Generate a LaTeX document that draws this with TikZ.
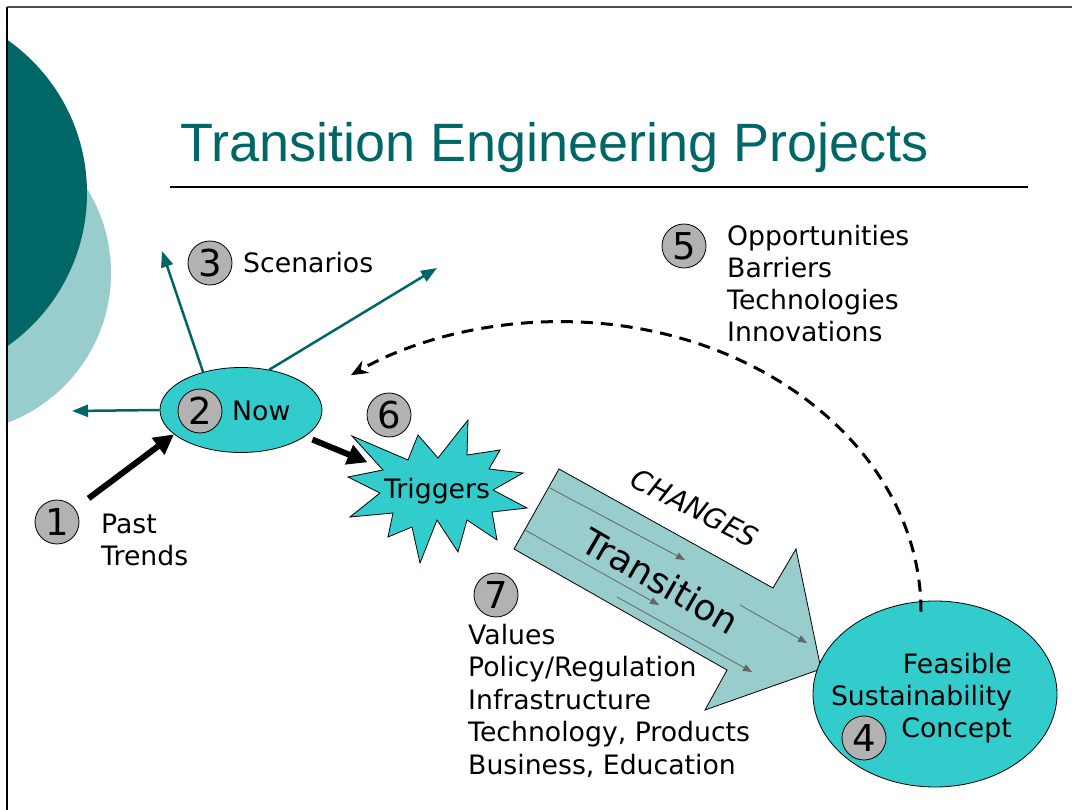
\documentclass[tikz,border=0pt]{standalone}
\usepackage{fontspec}
\setmainfont{DejaVu Sans}
\newfontfamily\titlefont{Liberation Sans}
\usetikzlibrary{shapes.geometric,arrows.meta}
\definecolor{darkteal}{RGB}{0,102,102}
\definecolor{paleteal}{RGB}{153,204,204}
\definecolor{brightteal}{RGB}{51,204,204}
\definecolor{badgegray}{RGB}{178,178,178}

\begin{document}
\begin{tikzpicture}[x=1pt,y=1pt]
	\tikzstyle{every node}=[inner sep=0pt]
	\tikzstyle{badge}=[circle,draw,fill=badgegray,minimum size=44pt,line width=0.8pt,font=\fontsize{37}{37}\selectfont]
	\tikzstyle{lbl}=[align=left,font=\fontsize{26.7}{32}\selectfont]
	\tikzstyle{bigarrow}=[line width=6pt,-{Triangle[length=20pt,width=20pt]}]
	\tikzstyle{ray}=[darkteal,line width=2.5pt,-{Triangle[length=16pt,width=12pt]}]
	\tikzstyle{flow}=[black!60,line width=0.8pt,-{Triangle[length=9pt,width=7pt]}]
	\useasboundingbox (0,0) rectangle (1072,-810);

	% corner discs
	\begin{scope}
		\clip (7,-7) rectangle (400,-810);
		\fill[paleteal] (-49,-273) circle (160);
		\fill[darkteal] (-100,-193) circle (187);
	\end{scope}
	\draw[black!70,line width=1.5pt] (7,-7) -- (1072,-7);
	\draw[line width=1.5pt] (7,-7) -- (7,-810);

	\node[anchor=base west,text=darkteal,font=\titlefont\fontsize{54}{60}\selectfont] (title) at (180,-162) {Transition Engineering Projects};
	\draw[line width=2pt] (170,-187) -- (1028,-187);

	% transition arrow
	\filldraw[fill=paleteal,draw=black,line width=0.8pt] (559,-469) -- (773,-588) -- (796,-549) -- (821,-669) -- (705,-710) -- (727,-670) -- (514,-549) -- cycle;
	\draw[flow] (550,-488) -- (685,-560);
	\draw[flow] (525,-530) -- (659,-605);
	\draw[flow] (617,-597) -- (752,-672);
	\draw[flow] (740,-605) -- (807,-643);
	\node[rotate=-30,font=\fontsize{36}{38}\selectfont] (trans) at (661,-581) {Transition};
	\node[rotate=-27,font=\itshape\fontsize{28}{30}\selectfont] (changes) at (695,-508) {CHANGES};

	% triggers burst
	\filldraw[fill=brightteal,draw=black,line width=0.8pt] (352,-436) -- (408,-460) -- (418,-435) -- (438,-458) -- (468,-420) -- (467,-455) -- (500,-450) -- (489,-469) -- (523,-473) -- (493,-490) -- (527,-508) -- (492,-512) -- (497,-540) -- (467,-520) -- (458,-552) -- (437,-520) -- (420,-563) -- (412,-527) -- (388,-537) -- (393,-513) -- (350,-517) -- (380,-493) -- (348,-477) -- (383,-470) -- cycle;
	\node[circle,minimum size=150pt,lbl] (trig) at (437,-491) {Triggers};

	\node[ellipse,draw,fill=brightteal,minimum width=162pt,minimum height=85pt,line width=0.8pt] (now) at (241,-410) {};
	\node[ellipse,draw,fill=brightteal,minimum width=244pt,minimum height=186pt,line width=0.8pt] (feas) at (935,-694) {};

	\node[badge] (one) at (57,-522) {1};
	\node[badge] (two) at (200,-411) {2};
	\node[badge] (three) at (210,-263) {3};
	\node[badge] (four) at (864,-738) {4};
	\node[badge] (five) at (684,-246) {5};
	\node[badge] (six) at (389,-415) {6};
	\node[badge] (seven) at (496,-595) {7};

	\node[lbl,anchor=base west] (past) at (101,-565) {Past\\Trends};
	\node[lbl,anchor=base west] (nowtxt) at (232,-421) {Now};
	\node[lbl,anchor=base west] (scen) at (243,-273) {Scenarios};
	\node[lbl,anchor=base west] (opps) at (727,-342) {Opportunities\\Barriers\\Technologies\\Innovations};
	\node[lbl,anchor=base west,font=\fontsize{26.7}{32.5}\selectfont] (vals) at (468,-774) {Values\\Policy/Regulation\\Infrastructure\\Technology, Products\\Business, Education};
	\node[lbl,align=right,anchor=base east] (fsc) at (1012,-737) {Feasible\hspace{9pt}\\Sustainability\\Concept};

	\coordinate (up) at (162,-251);
	\coordinate (upright) at (437,-268);
	\coordinate (left) at (72,-411);
	\draw[ray] (now.135) -- (up);
	\draw[ray] (now.55) -- (upright);
	\draw[ray] (now.west) -- (left);

	\draw[bigarrow,shorten <=17pt] (one) -- (now.200);
	\draw[bigarrow,shorten <=8pt] (now) -- (trig);

	\draw[line width=3pt,dash pattern=on 12pt off 8pt,-{Stealth[length=17pt,width=14pt]}] ([xshift=-14pt,yshift=-11pt]feas.north) arc[start angle=0,end angle=125.4,x radius=361,y radius=290];
\end{tikzpicture}
\end{document}
